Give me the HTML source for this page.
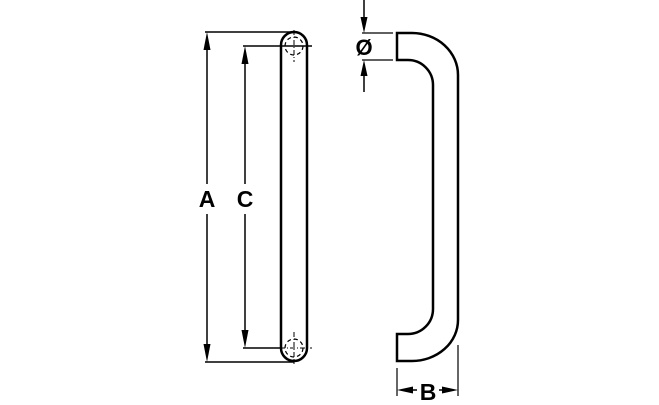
<!DOCTYPE html>
<html><head><style>html,body{margin:0;padding:0;background:#fff}</style></head><body>
<svg width="659" height="400" viewBox="0 0 659 400" xmlns="http://www.w3.org/2000/svg">
<g fill="none" stroke="#000">
<path d="M281,348 V45 A13,13 0 0 1 307,45 V348 A13,13 0 0 1 281,348 Z" stroke-width="2.5"/>
<circle cx="294" cy="46" r="9" stroke-width="1.2" stroke-dasharray="4,3"/>
<circle cx="294" cy="348" r="9" stroke-width="1.2" stroke-dasharray="4,3"/>
<line x1="294" y1="30" x2="294" y2="62" stroke-width="1" stroke-dasharray="5,2,1,2"/>
<line x1="294" y1="332" x2="294" y2="364" stroke-width="1" stroke-dasharray="5,2,1,2"/>
<line x1="280" y1="348" x2="312" y2="348" stroke-width="1" stroke-dasharray="5,2,1,2"/>
<line x1="205" y1="32" x2="294" y2="32" stroke-width="1.5"/>
<line x1="205" y1="362" x2="294" y2="362" stroke-width="1.5"/>
<line x1="243" y1="46" x2="312" y2="46" stroke-width="1.5"/>
<line x1="243" y1="348" x2="281" y2="348" stroke-width="1.5"/>
<line x1="207" y1="40" x2="207" y2="184" stroke-width="1.5"/>
<line x1="207" y1="214" x2="207" y2="354" stroke-width="1.5"/>
<line x1="245" y1="54" x2="245" y2="184" stroke-width="1.5"/>
<line x1="245" y1="214" x2="245" y2="340" stroke-width="1.5"/>
<path d="M397,33 H412 A46,42 0 0 1 458,75 V320 A46,41 0 0 1 412,361 H397 V334 H408 A25,25 0 0 0 433,309 V85 A25,25 0 0 0 408,60 H397 Z" stroke-width="2.5"/>
<line x1="362" y1="33" x2="393" y2="33" stroke-width="1.2"/>
<line x1="362" y1="60" x2="393" y2="60" stroke-width="1.2"/>
<line x1="364" y1="0" x2="364" y2="22" stroke-width="1.5"/>
<line x1="364" y1="92" x2="364" y2="70" stroke-width="1.5"/>
<line x1="397" y1="368" x2="397" y2="396" stroke-width="1.2"/>
<line x1="458" y1="345" x2="458" y2="396" stroke-width="1.2"/>
<line x1="410" y1="390" x2="417" y2="390" stroke-width="1.5"/>
<line x1="439" y1="390" x2="446" y2="390" stroke-width="1.5"/>
</g>
<g fill="#000">
<polygon points="207,32 203.5,50 210.5,50"/>
<polygon points="207,362 203.5,344 210.5,344"/>
<polygon points="245,46 241.5,64 248.5,64"/>
<polygon points="245,348 241.5,330 248.5,330"/>
<polygon points="364,33 360.5,17 367.5,17"/>
<polygon points="364,60 360.5,76 367.5,76"/>
<polygon points="397,390 413,386.5 413,393.5"/>
<polygon points="458,390 442,386.5 442,393.5"/>
</g>
<g font-family="Liberation Sans, sans-serif" font-weight="bold" font-size="23" text-anchor="middle">
<text x="207" y="207">A</text>
<text x="245" y="207">C</text>
<text x="428" y="400">B</text>
<text x="364" y="55" font-size="22">Ø</text>
</g>
</svg>
</body></html>
